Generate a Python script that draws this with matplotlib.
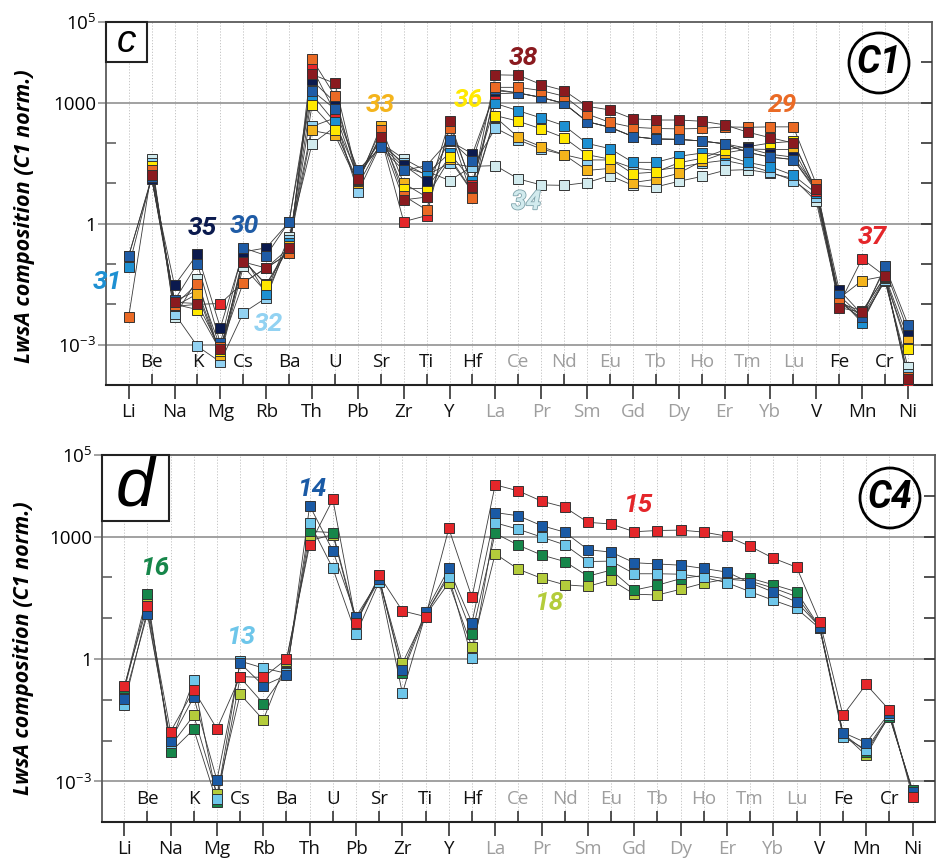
import numpy as np
import matplotlib
matplotlib.use("Agg")
import matplotlib.pyplot as plt
from matplotlib.patches import Rectangle, Ellipse
from matplotlib.ticker import NullFormatter, FixedLocator, NullLocator
import matplotlib.patheffects as pe

plt.rcParams['font.family'] = ['Open Sans', 'DejaVu Sans']
plt.rcParams['mathtext.fontset'] = 'custom'
plt.rcParams['mathtext.rm'] = 'Open Sans'

# ---------------- categories ----------------
elements = ['Li', 'Be', 'Na', 'K', 'Mg', 'Cs', 'Rb', 'Ba', 'Th', 'U', 'Pb', 'Sr', 'Zr', 'Ti',
            'Y', 'Hf', 'La', 'Ce', 'Pr', 'Nd', 'Sm', 'Eu', 'Gd', 'Tb', 'Dy', 'Ho', 'Er', 'Tm',
            'Yb', 'Lu', 'V', 'Fe', 'Mn', 'Cr', 'Ni']
ree = ['La', 'Ce', 'Pr', 'Nd', 'Sm', 'Eu', 'Gd', 'Tb', 'Dy', 'Ho', 'Er', 'Tm', 'Yb', 'Lu']
ytick_values = [1e-3, 1, 1e3, 1e5]
ytick_labels = [r'$\mathregular{10^{-3}}$', '1', '1000', r'$\mathregular{10^{5}}$']

nan = np.nan
# ---------------- panel c (C1), log10 of C1-normalised composition ----------------
c_29 = [-2.31, 1.32, -2.02, -1.49, -3.07, -1.46, -1.10, -0.73, 4.08, 3.17, 1.09, 2.31, 0.69, 0.34,
        2.37, 0.64, 3.38, 3.38, 3.30, 3.16, 2.72, 2.51, 2.39, 2.36, 2.35, 2.36, 2.40, 2.39,
        2.40, 2.40, 0.98, -1.96, -2.17, -1.31, -3.80]
c_30 = [-0.81, 1.15, -1.90, -0.99, -2.97, -0.60, -0.79, 0.05, 3.30, 2.84, 1.33, 1.89, 1.32, 1.44,
        2.08, 1.56, 3.33, 3.24, 3.13, 2.98, 2.53, 2.39, 2.16, 2.10, 2.09, 2.05, 1.98, 1.77,
        1.65, 1.59, 0.85, -1.78, -2.31, -1.05, -2.50]
c_31 = [-1.08, 1.15, -1.92, -1.65, -3.20, -0.81, -1.74, -0.47, 3.20, 2.51, 1.20, 1.95, 1.40, 1.23,
        1.75, 1.05, 2.98, 2.80, 2.62, 2.43, 1.99, 1.86, 1.52, 1.52, 1.67, 1.75, 1.70, 1.52,
        1.41, 1.20, 0.75, -1.85, -2.46, -1.35, -3.00]
c_32 = [nan, 1.50, -2.23, -3.04, -3.43, -2.21, -1.84, -0.40, 2.41, 2.62, 0.78, 1.97, 1.50, 1.20,
        1.50, 1.40, 2.37, 2.08, 1.85, 1.71, 1.58, 1.58, 1.38, 1.32, 1.40, 1.50, 1.57, 1.45,
        1.28, 1.07, 0.65, -1.90, -2.40, -1.40, -3.72]
c_33 = [nan, 1.40, -2.05, -1.74, -3.25, -0.92, -1.50, -0.55, 2.31, 2.20, 1.00, 2.41, 1.00, 0.66,
        1.60, 0.78, 2.64, 2.14, 1.91, 1.71, 1.32, 1.37, 1.02, 1.10, 1.25, 1.55, 1.75, 1.85,
        1.84, 1.84, 0.80, -1.85, -1.41, -1.30, -2.84]
c_34 = [nan, 1.60, -2.31, -1.37, -3.30, -1.06, -1.70, -0.32, 1.98, 2.40, 0.95, 2.00, 1.61, 1.30,
        1.07, 1.42, 1.44, 1.11, 0.96, 0.95, 1.02, 1.19, 0.95, 0.91, 1.05, 1.17, 1.32, 1.34,
        1.25, 1.12, 0.55, -1.95, -2.35, -1.42, -3.55]
c_35 = [-0.79, 1.11, -1.53, -0.75, -2.58, -0.70, -0.60, 0.04, 3.55, 3.01, 1.25, 2.05, 1.45, 1.05,
        2.05, 1.73, 3.30, 3.24, 3.13, 2.98, 2.53, 2.39, 2.16, 2.10, 2.09, 2.05, 1.98, 1.87,
        1.72, 1.65, 0.90, -1.64, -2.25, -1.12, -2.66]
c_36 = [nan, 1.44, -2.00, -2.13, -3.15, -0.90, -1.52, -0.60, 2.94, 2.32, 1.05, 2.20, 0.86, 0.88,
        1.65, 0.80, 2.68, 2.54, 2.35, 2.13, 1.71, 1.60, 1.24, 1.28, 1.51, 1.62, 1.83, 1.91,
        2.00, 2.04, 0.80, -1.90, -2.30, -1.35, -3.10]
c_37 = [nan, 1.15, -2.05, -2.00, -1.98, -1.46, -1.10, -0.73, 3.86, 2.76, 1.10, 2.15, 0.05, 0.20,
        2.45, 0.95, 3.22, 3.24, 3.13, 2.98, 2.53, 2.39, 2.16, 2.10, 2.09, 2.05, 1.98, 1.77,
        1.65, 1.59, 0.80, -2.00, -0.87, -1.30, -3.91]
c_38 = [nan, 1.20, -1.95, -1.98, -3.10, -0.95, -1.10, -0.60, 3.70, 3.48, 1.10, 2.14, 0.59, 0.66,
        2.55, 0.90, 3.69, 3.68, 3.45, 3.30, 2.91, 2.82, 2.60, 2.57, 2.57, 2.54, 2.45, 2.27,
        2.13, 2.00, 0.85, -2.08, -2.20, -1.30, -3.85]

# ---------------- panel d (C4) ----------------
d_13 = [-1.12, 1.20, -2.06, -0.52, -3.42, -0.05, -0.22, -0.35, 3.34, 2.22, 0.61, 1.90, -0.84, 1.10,
        2.02, 0.02, 3.34, 3.18, 2.99, 2.80, 2.39, 2.40, 2.09, 2.09, 2.08, 2.00, 1.87, 1.65,
        1.44, 1.24, 0.75, -1.90, -2.22, -1.37, -3.25]
d_14 = [-0.98, 1.10, -2.00, -0.93, -2.97, -0.10, -0.65, -0.40, 3.76, 2.65, 1.04, 1.95, -0.27, 1.16,
        2.22, 0.89, 3.59, 3.51, 3.27, 3.11, 2.68, 2.62, 2.36, 2.33, 2.30, 2.22, 2.13, 1.87,
        1.64, 1.40, 0.79, -1.80, -2.05, -1.33, -3.25]
d_15 = [-0.67, 1.30, -1.78, -0.76, -1.71, -0.43, -0.45, 0.00, 2.80, 3.91, 0.88, 2.05, 1.18, 1.04,
        3.20, 1.51, 4.27, 4.12, 3.87, 3.72, 3.35, 3.31, 3.12, 3.15, 3.16, 3.11, 3.01, 2.76,
        2.47, 2.25, 0.92, -1.38, -0.62, -1.25, -3.37]
d_16 = [-0.71, 1.59, -2.28, -1.72, -3.51, -0.45, -1.09, -0.31, 3.13, 3.10, 0.95, 2.00, -0.35, 1.08,
        2.10, 0.62, 3.08, 2.79, 2.55, 2.39, 2.03, 2.18, 1.69, 1.81, 1.97, 2.05, 1.96, 1.98,
        1.82, 1.65, 0.78, -1.83, -2.27, -1.41, -3.20]
d_18 = [-0.76, 1.45, -2.13, -1.38, -3.30, -0.86, -1.49, -0.05, 2.90, 3.05, 0.90, 1.95, -0.10, 1.07,
        1.87, 0.29, 2.58, 2.20, 1.98, 1.82, 1.78, 1.94, 1.59, 1.57, 1.71, 1.86, 1.96, 1.91,
        1.74, 1.53, 0.77, -1.83, -2.36, -1.37, -3.25]

colors = {'29': '#EA6A25', '30': '#1F5CA6', '31': '#1E90D2', '32': '#92D2F2', '33': '#F4B41C',
          '34': '#D2EBEE', '35': '#0B1A4E', '36': '#FFE800', '37': '#E4262A', '38': '#8A1A1F',
          '13': '#6EC6EA', '14': '#1A5AA5', '15': '#E4262A', '16': '#16864A', '18': '#B4CC3B'}

c_series = [('34', c_34), ('32', c_32), ('31', c_31), ('33', c_33), ('36', c_36), ('37', c_37),
            ('35', c_35), ('30', c_30), ('29', c_29), ('38', c_38)]
d_series = [('18', d_18), ('16', d_16), ('13', d_13), ('14', d_14), ('15', d_15)]

# labels: (text, x in element index, log10 y)
c_labels = [('35', 3.20, -0.11), ('30', 5.03, -0.06), ('31', -0.95, -1.45), ('32', 6.08, -2.49),
            ('33', 10.97, 2.93), ('36', 14.80, 3.06), ('38', 17.2, 4.10), ('34', 17.34, 0.53),
            ('29', 28.55, 2.93), ('37', 32.43, -0.34)]
d_labels = [('16', 1.32, 2.23), ('13', 5.03, 0.54), ('14', 8.10, 4.17), ('15', 22.16, 3.78),
            ('18', 18.32, 1.37)]

W, H = 937, 859
fig = plt.figure(figsize=(W / 100, H / 100), dpi=100)


def px_axes(l, t, r, b):
    return fig.add_axes([l / W, 1 - b / H, (r - l) / W, (b - t) / H])


def draw_panel(ax, series, labels, xlim, letter, letter_box, letter_size, circ_text, circ_xy, circ_wh):
    x = np.arange(len(elements))
    ax.set_yscale('log')
    ax.set_xlim(*xlim)
    ax.set_ylim(1e-4, 1e5)
    for i in x:
        ax.axvline(i, color='#BDBDBD', lw=0.6, ls=(0, (1.5, 2.0)), zorder=0)
    for v in [1e-3, 1, 1e3]:
        ax.axhline(v, color='#9A9A9A', lw=1.3, zorder=0.5)
    for sid, vals in series:
        y = np.power(10.0, np.array(vals, dtype=float))
        ax.plot(x, y, color='#3A3A3A', lw=0.6, zorder=2)
    for sid, vals in series:
        y = np.power(10.0, np.array(vals, dtype=float))
        ax.plot(x, y, ls='none', marker='s', ms=6.8, mfc=colors[sid], mec='#333333', mew=0.7,
                zorder=3)
    # x axis labels
    even = [i for i in x if i % 2 == 0]
    odd = [i for i in x if i % 2 == 1]
    ax.set_xticks(even)
    ax.set_xticklabels([elements[i] for i in even], fontsize=13.5)
    for lab, i in zip(ax.get_xticklabels(), even):
        lab.set_color('#9E9E9E' if elements[i] in ree else '#111111')
    ax.xaxis.set_minor_locator(FixedLocator(odd))
    ax.tick_params(axis='x', which='major', direction='out', length=10, width=1.2, pad=3,
                   color='#333333', top=False)
    ax.tick_params(axis='x', which='minor', direction='in', length=8, width=1.2,
                   color='#333333', top=False)
    for i in odd:
        ax.text(i, 10 ** -3.43, elements[i], ha='center', va='center', fontsize=13.5,
                color='#9E9E9E' if elements[i] in ree else '#111111', zorder=4)
    # y axis
    ax.yaxis.set_major_locator(FixedLocator(ytick_values))
    ax.set_yticklabels(ytick_labels, fontsize=13.5)
    ax.yaxis.set_minor_locator(FixedLocator([1e-2, 1e-1, 10, 100, 1e4]))
    ax.yaxis.set_minor_formatter(NullFormatter())
    ax.tick_params(axis='y', which='major', direction='out', length=6, width=1.3,
                   color='#9A9A9A', pad=1, right=False)
    ax.tick_params(axis='y', which='minor', direction='in', length=7, width=1.1,
                   color='#555555', right=False)
    ax2 = ax.twinx()
    ax2.set_yscale('log')
    ax2.set_ylim(1e-4, 1e5)
    ax2.yaxis.set_major_locator(FixedLocator([1e-3, 1e-2, 1e-1, 1, 10, 100, 1e3, 1e4]))
    ax2.yaxis.set_minor_locator(NullLocator())
    ax2.tick_params(axis='y', direction='in', length=8, width=1.2, color='#333333',
                    labelright=False)
    for s in ax2.spines.values():
        s.set_visible(False)
    for side in ['left', 'top', 'right']:
        ax.spines[side].set_color('#5A5A5A')
        ax.spines[side].set_linewidth(1.3)
    ax.spines['bottom'].set_color('#222222')
    ax.spines['bottom'].set_linewidth(1.5)
    # sample number labels
    for t, lx, ly in labels:
        kw = {}
        if t == '34':
            kw['path_effects'] = [pe.withStroke(linewidth=1.2, foreground='#7FA3AB')]
        ax.text(lx, 10 ** ly, t, ha='center', va='center', fontsize=19, fontweight='bold',
                style='italic', family=['Roboto', 'DejaVu Sans'], color=colors[t],
                clip_on=False, zorder=5, **kw)
    # panel letter box
    bx, by, bw, bh = letter_box
    ax.add_patch(Rectangle((bx, by), bw, bh, transform=ax.transAxes, fill=True, fc='white',
                           ec='#222222', lw=1.5, zorder=6, clip_on=False))
    ax.text(bx + bw / 2, by + bh / 2, letter, transform=ax.transAxes, ha='center', va='center',
            fontsize=letter_size, style='italic', family=['Liberation Sans', 'DejaVu Sans'],
            zorder=7)
    # circle label
    cx, cy = circ_xy
    cw, ch = circ_wh
    ax.add_patch(Ellipse((cx, cy), cw, ch, transform=ax.transAxes, fill=False, ec='black',
                         lw=2.0, zorder=6))
    ax.text(cx, cy, circ_text, transform=ax.transAxes, ha='center', va='center', fontsize=27,
            fontweight='bold', style='italic', family=['Roboto', 'DejaVu Sans'], zorder=7)


# top panel c
axc = px_axes(106, 22, 932, 385)
draw_panel(axc, c_series, c_labels, (-0.99, 35.05), 'c',
           (0.0, 1 - 40 / 363, 41 / 826, 40 / 363), 28, 'C1',
           ((879 - 106) / 826, 1 - (63 - 22) / 363), (60 / 826, 60 / 363))

# bottom panel d
axd = px_axes(101.7, 455, 935, 822.3)
draw_panel(axd, d_series, d_labels, (-0.97, 34.97), 'd',
           (0.0, 1 - 66 / 367.3, 67 / 833.3, 66 / 367.3), 50, 'C4',
           ((890 - 101.7) / 833.3, 1 - (498 - 455) / 367.3), (60 / 833.3, 60 / 367.3))

ylab = 'LwsA composition (C1 norm.)'
fig.text(25 / W, 1 - 216 / H, ylab, rotation=90, ha='center', va='center', fontsize=15.5,
         fontweight='bold', style='italic')
fig.text(24 / W, 1 - 648 / H, ylab, rotation=90, ha='center', va='center', fontsize=15.5,
         fontweight='bold', style='italic')

fig.savefig('out.png', dpi=100)
